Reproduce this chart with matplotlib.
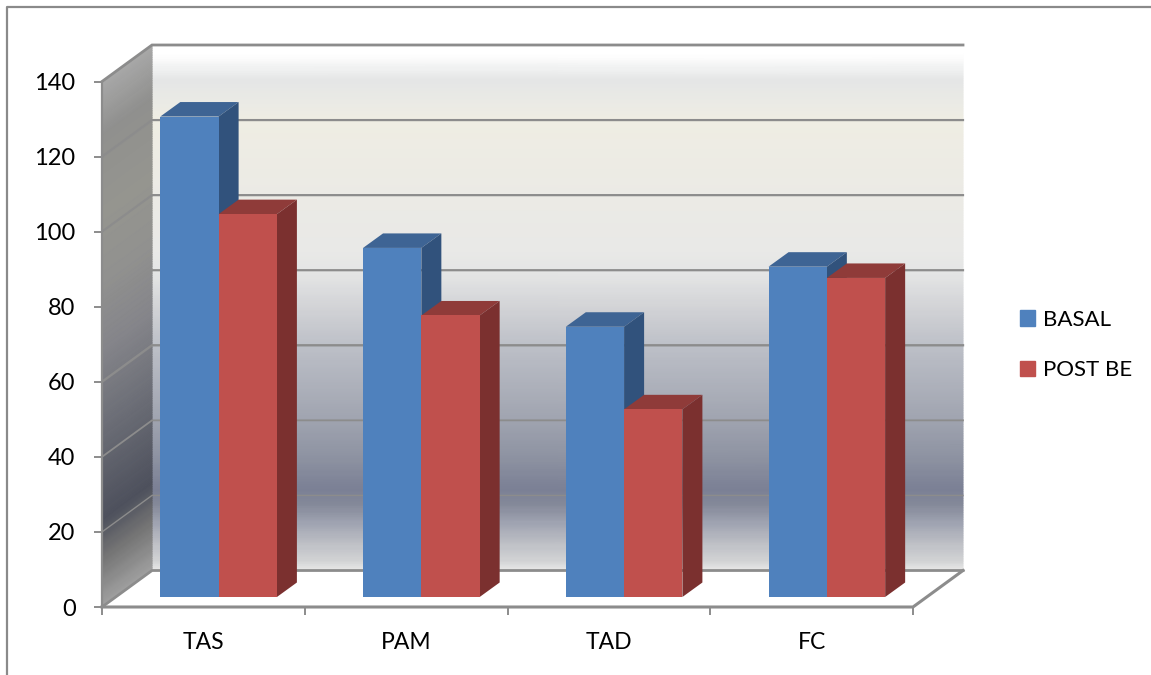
import numpy as np
import matplotlib.pyplot as plt
from matplotlib.colors import LinearSegmentedColormap
from matplotlib.patches import Patch

categories = ["TAS", "PAM", "TAD", "FC"]
basal = [128, 93, 72, 88]
post_be = [102, 75, 50, 85]
series_names = ["BASAL", "POST BE"]
y_ticks = [0, 20, 40, 60, 80, 100, 120, 140]

W, H = 1151, 675
GRID = "#8c8c8c"

plt.rcParams['font.family'] = ['Lato', 'DejaVu Sans']

fig = plt.figure(figsize=(W / 100, H / 100), dpi=100)
# front plane of the 3D box
ax = fig.add_axes([102 / W, 1 - 607 / H, 811 / W, 525.5 / H])
ax.set_xlim(0, 4)
ax.set_ylim(0, 140)
ax.patch.set_alpha(0)
for s in ax.spines.values():
    s.set_visible(False)

# depth of the box, in data units
px_x = 4 / 811
px_y = 140 / 525.5
DX = 50 * px_x
DY = 36.5 * px_y

# gradient stops: position along the wall from bottom (0) to top (1)
back_cmap = LinearSegmentedColormap.from_list("back", [
    (0.00, "#e6e6e6"), (0.02, "#d0d1d3"), (0.05, "#bec0c6"), (0.09, "#9fa3b1"), (0.125, "#848999"),
    (0.154, "#7b8095"), (0.216, "#8e93a2"), (0.287, "#a0a4b0"), (0.425, "#bcbfc7"), (0.50, "#d2d3d6"),
    (0.565, "#e4e5e5"), (0.61, "#e9e9e7"), (0.71, "#ebeae5"), (0.86, "#efede3"),
    (0.895, "#eaeae5"), (0.935, "#e5e6e6"), (0.985, "#ffffff"), (1.00, "#ffffff")])
side_cmap = LinearSegmentedColormap.from_list("side", [
    (0.00, "#a0a0a0"), (0.09, "#757575"), (0.165, "#4e515d"), (0.365, "#70727a"),
    (0.49, "#85858a"), (0.62, "#91918f"), (0.75, "#95958f"), (0.90, "#90908e"),
    (1.00, "#a8a8a8")])

v = np.linspace(0, 1, 300)
u = np.linspace(0, 1, 2)
uu, vv = np.meshgrid(u, v)

# back wall
ax.pcolormesh(DX + uu * 4, DY + vv * 140, vv, cmap=back_cmap, vmin=0, vmax=1,
              shading="gouraud", clip_on=False, zorder=1)
# left wall, sheared along the depth
ax.pcolormesh(uu * DX, vv * 140 + uu * DY, vv, cmap=side_cmap, vmin=0, vmax=1,
              shading="gouraud", clip_on=False, zorder=1)

# gridlines run along the left wall and the back wall
grid_lw = {0: 2.0, 20: 1.0, 40: 1.3, 60: 1.7, 80: 1.6, 100: 1.6, 120: 1.6, 140: 2.0}
for t in y_ticks:
    ax.plot([0, DX, 4 + DX], [t, t + DY, t + DY], color=GRID, lw=grid_lw[t], clip_on=False,
            zorder=2, solid_joinstyle="miter")
ax.plot([0, 0], [0, 140], color=GRID, lw=1.6, clip_on=False, zorder=2)
ax.plot([0, 4, 4 + DX], [0, 0, DY], color=GRID, lw=2.2, clip_on=False, zorder=2)

# bars stand in the middle of the floor
bar_w = 58.3 * px_x
front_dx = 14 * px_x
front_dy = 10 * px_y
bar_dx = 20 * px_x
bar_dy = 14.5 * px_y
x_pos = np.arange(len(categories)) + 44.3 * px_x + front_dx


def bar3d(x, val, front, top, side, z):
    ax.bar(x, val, bar_w, bottom=front_dy, align="edge", color=front, zorder=z + 0.2, clip_on=False)
    y1 = front_dy + val
    ax.fill([x, x + bar_w, x + bar_w + bar_dx, x + bar_dx],
            [y1, y1, y1 + bar_dy, y1 + bar_dy], color=top, lw=0, zorder=z, clip_on=False)
    ax.fill([x + bar_w, x + bar_w + bar_dx, x + bar_w + bar_dx, x + bar_w],
            [front_dy, front_dy + bar_dy, y1 + bar_dy, y1], color=side, lw=0, zorder=z, clip_on=False)


for i in range(len(categories)):
    bar3d(x_pos[i], basal[i], "#4f81bd", "#3e6494", "#31527c", 3)
    bar3d(x_pos[i] + bar_w, post_be[i], "#c0504d", "#8f3b39", "#7b302f", 4)

ax.set_yticks(y_ticks)
ax.set_xticks(np.arange(5))
ax.set_xticklabels([])
ax.set_xticks(np.arange(4) + 0.5, categories, minor=True)
ax.tick_params(axis="y", length=6, width=1.4, color=GRID, labelsize=17, pad=13, labelcolor="black")
ax.tick_params(axis="x", which="major", length=6, width=1.4, color=GRID)
ax.tick_params(axis="x", which="minor", length=0, labelsize=16.5, pad=18, labelcolor="black")

handles = [Patch(color="#4f81bd"), Patch(color="#c0504d")]
fig.legend(handles, series_names, loc="center left", bbox_to_anchor=(1020 / W, 1 - 345 / H),
           frameon=False, fontsize=16, handlelength=0.68, handleheight=0.68, handletextpad=0.36,
           labelspacing=1.36, labelcolor="black", borderpad=0, borderaxespad=0)

# outer chart frame, open on the right and bottom
fig.add_artist(plt.Line2D([6.5 / W, 6.5 / W, 1], [0, 1 - 7 / H, 1 - 7 / H], color="#8a8a8a", lw=1.6))

fig.savefig("out.png", dpi=100)
